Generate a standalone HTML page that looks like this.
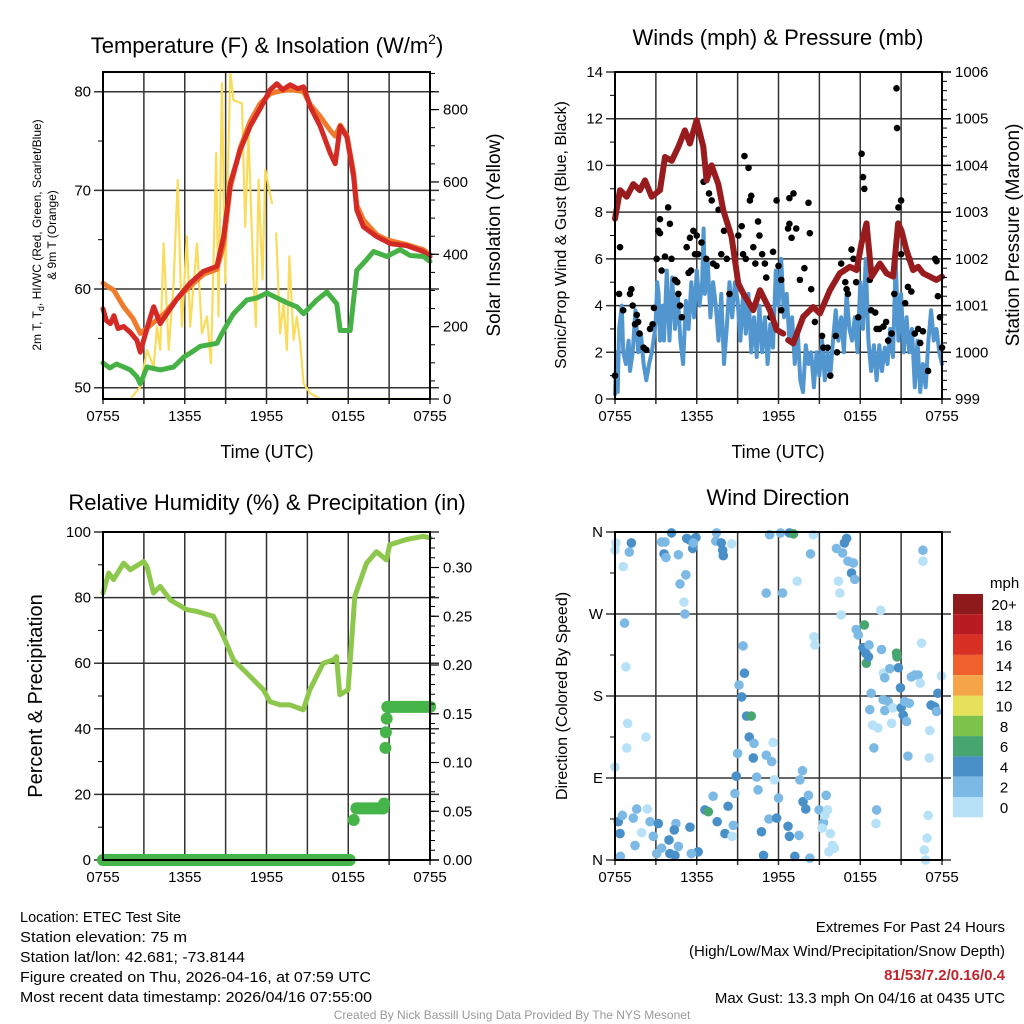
<!DOCTYPE html>
<html><head><meta charset="utf-8"><style>
html,body{margin:0;padding:0;background:#fff;}
svg{display:block;font-family:"Liberation Sans",Arial,sans-serif;}
</style></head><body>
<svg id="chart" width="1024" height="1024" viewBox="0 0 1024 1024" xmlns="http://www.w3.org/2000/svg">
<defs><clipPath id="clip1"><rect x="103" y="66" width="327" height="334"/></clipPath></defs>
<rect width="1024" height="1024" fill="#fff"/>
<text x="267" y="53" font-size="22" text-anchor="middle">Temperature (F) &amp; Insolation (W/m<tspan dy="-9" font-size="14">2</tspan><tspan dy="9">)</tspan></text>
<text x="778" y="45" font-size="22" text-anchor="middle">Winds (mph) &amp; Pressure (mb)</text>
<text x="267" y="510" font-size="22" text-anchor="middle">Relative Humidity (%) &amp; Precipitation (in)</text>
<text x="778" y="505" font-size="22" text-anchor="middle">Wind Direction</text>
<text x="267" y="458" font-size="18" text-anchor="middle">Time (UTC)</text>
<text x="778" y="458" font-size="18" text-anchor="middle">Time (UTC)</text>
<text transform="translate(41,235) rotate(-90)" font-size="12" text-anchor="middle">2m T, T<tspan font-size="9" dy="3">d</tspan><tspan dy="-3">, HI/WC (Red, Green, Scarlet/Blue)</tspan></text>
<text transform="translate(56,235) rotate(-90)" font-size="12" text-anchor="middle">&amp; 9m T (Orange)</text>
<text transform="translate(500,235) rotate(-90)" font-size="19" text-anchor="middle">Solar Insolation (Yellow)</text>
<text transform="translate(566,235) rotate(-90)" font-size="16" text-anchor="middle">Sonic/Prop Wind &amp; Gust (Blue, Black)</text>
<text transform="translate(1019,235) rotate(-90)" font-size="19" text-anchor="middle">Station Pressure (Maroon)</text>
<text transform="translate(42,696) rotate(-90)" font-size="20" text-anchor="middle">Percent &amp; Precipitation</text>
<text transform="translate(567,696) rotate(-90)" font-size="16" text-anchor="middle">Direction (Colored By Speed)</text>
<g font-size="15">
<text x="20" y="922" textLength="161" lengthAdjust="spacingAndGlyphs">Location: ETEC Test Site</text>
<text x="20" y="942" textLength="167" lengthAdjust="spacingAndGlyphs">Station elevation: 75 m</text>
<text x="20" y="962" textLength="225" lengthAdjust="spacingAndGlyphs">Station lat/lon: 42.681; -73.8144</text>
<text x="20" y="982" textLength="351" lengthAdjust="spacingAndGlyphs">Figure created on Thu, 2026-04-16, at 07:59 UTC</text>
<text x="20" y="1002" textLength="352" lengthAdjust="spacingAndGlyphs">Most recent data timestamp: 2026/04/16 07:55:00</text>
</g>
<g font-size="15" text-anchor="end">
<text x="1005" y="932">Extremes For Past 24 Hours</text>
<text x="1005" y="956">(High/Low/Max Wind/Precipitation/Snow Depth)</text>
<text x="1005" y="980" fill="#c0262d" font-weight="bold">81/53/7.2/0.16/0.4</text>
<text x="1005" y="1003">Max Gust: 13.3 mph On 04/16 at 0435 UTC</text>
</g>
<text x="512" y="1019" font-size="12" fill="#999" text-anchor="middle">Created By Nick Bassill Using Data Provided By The NYS Mesonet</text>
<g id="layer"></g>
</svg>
<script>
const xTickLabels = ["0755","1355","1955","0155","0755"];
const tempTicks = [50,60,70,80];
const insolTicks = [0,200,400,600,800];
const windTicks = [0,2,4,6,8,10,12,14];
const presTicks = [999,1000,1001,1002,1003,1004,1005,1006];
const rhTicks = [0,20,40,60,80,100];
const precipTicks = [0,0.05,0.10,0.15,0.20,0.25,0.30];
const dirTicks = ["N","E","S","W","N"];
const speedBins = ["0","2","4","6","8","10","12","14","16","18","20+"];
const speedColors = ["#b7e1f7","#7db9e5","#4a90c8","#47a56f","#7dc24a","#e7e05a","#f6a44a","#f0602c","#d93026","#b81c22","#8f1a1c"];

const temp2m = [[0,58],[0.25,56.8],[0.54,56.5],[0.8,57.3],[1.1,56],[1.52,56.2],[2.0,55.6],[2.49,54.8],[2.74,53.6],[2.98,54.8],[3.4,56.8],[3.72,58.2],[4.2,56.5],[4.69,57.5],[5.43,59],[6.4,60.6],[7.38,61.8],[8.36,62.3],[8.85,65.3],[9.34,70.7],[10.07,74.1],[10.8,76.5],[11.54,78.3],[12.27,80.2],[12.76,80.8],[13.2,80.2],[13.74,80.7],[14.3,80.3],[14.72,80.5],[15.21,78.5],[15.94,76.5],[16.67,73.8],[17.04,72.7],[17.41,76.5],[17.9,75.4],[18.39,71.4],[18.63,68],[19.12,66.3],[20.1,65.3],[20.83,64.8],[21.08,64.6],[22.3,64.4],[23.5,63.8],[24,63.3]];
const temp9m = [[0,60.6],[0.4,60.2],[0.78,59.9],[1.52,58.2],[2.2,57],[2.74,55.5],[3.2,56],[3.96,56.9],[4.5,57.5],[5.43,59],[6.4,60.3],[7.38,61.5],[8.36,62],[8.85,64.5],[9.34,70.3],[10.07,74.3],[10.8,77],[11.54,78.8],[12.27,79.8],[12.76,80],[13.74,80.2],[14.72,80],[15.21,78.7],[15.94,77.5],[16.67,76.1],[17.04,75.5],[17.41,76.6],[17.9,75.6],[18.39,71.8],[18.63,68.5],[19.12,67],[20.1,65.5],[20.83,65],[21.08,64.9],[22.3,64.5],[23.5,64],[24,63.5]];
const dewpoint = [[0,52.5],[0.5,52],[1.0,52.4],[1.52,52.1],[2.0,51.8],[2.49,51.1],[2.74,50.4],[3.23,52.1],[4.2,51.8],[5.18,52.1],[5.92,53.1],[6.5,53.6],[7.14,54.2],[8.36,54.5],[8.85,55.8],[9.58,57.5],[10.56,58.9],[11.3,59.1],[12.03,59.6],[12.76,59.1],[13.5,58.6],[14.23,58.2],[14.72,57.5],[15.7,58.9],[16.43,59.7],[17.16,58.5],[17.41,55.8],[18.14,55.8],[18.63,61.9],[19.36,63],[19.85,63.8],[20.83,63.3],[21.8,64],[22.54,63.4],[23.52,63.3],[24,62.8]];
const insolation = [[0,0],[2.0,0],[2.74,34],[3.23,135],[3.72,89],[3.96,200],[4.2,136],[4.45,430],[4.82,136],[5.18,320],[5.48,605],[5.79,200],[6.16,450],[6.4,200],[6.9,430],[7.26,182],[7.63,228],[7.92,98],[8.31,680],[8.48,228],[8.73,873],[8.97,320],[9.34,905],[9.58,826],[10.2,817],[10.44,476],[10.68,734],[11.05,320],[11.22,200],[11.42,606],[11.71,330],[11.91,633],[12.4,541],null,[12.71,458],[13.0,181],[13.25,264],[13.5,135],[13.67,394],[13.99,163],[14.23,228],[14.47,154],[14.72,43],[15.2,16],[15.94,0],[24,0]];
const pressure = [[0,1002.86],[0.37,1003.47],[0.86,1003.33],[1.34,1003.6],[1.83,1003.47],[2.2,1003.68],[2.69,1003.33],[3.3,1003.47],[3.67,1004.18],[4.16,1004.1],[4.65,1004.4],[5.13,1004.75],[5.5,1004.47],[5.99,1004.97],[6.48,1004.4],[6.72,1003.68],[7.09,1004.0],[7.58,1003.6],[7.95,1003.04],[8.56,1002.47],[9.05,1001.47],[9.41,1001.26],[10.15,1000.9],[10.64,1001.33],[11.37,1000.9],[11.86,1000.48],[12.35,1000.4],null,[12.71,1000.26],[13.08,1000.19],[13.81,1000.76],[14.55,1000.97],[15.04,1000.83],[15.77,1001.33],[16.5,1001.69],[17.24,1001.83],[17.73,1001.76],[18.09,1002.33],[18.46,1002.76],[18.83,1001.62],[19.44,1001.9],[19.93,1001.69],[20.42,1001.62],[20.78,1002.76],[21.03,1002.6],[21.39,1002.19],[21.88,1001.76],[22.25,1001.83],[22.62,1001.69],[23.1,1001.62],[23.59,1001.55],[24,1001.62]];
const windSpeed = [[0,0.2],[0.1,2],[0.2,0.3],[0.3,3],[0.5,4],[0.6,2],[0.8,1.5],[1.0,2.5],[1.1,1.2],[1.3,2],[1.5,3.8],[1.7,2],[1.9,2.8],[2.1,1.5],[2.3,0.8],[2.5,1.5],[2.7,2.0],[2.9,2.8],[3.0,3.5],[3.1,5],[3.2,4.5],[3.3,2.5],[3.5,4],[3.6,2.5],[3.8,5.5],[3.9,4],[4.0,2.5],[4.2,5.2],[4.4,3],[4.6,4.5],[4.8,2.5],[5.0,1.5],[5.2,4.2],[5.4,3],[5.6,5],[5.8,3.5],[6.0,5.5],[6.2,4],[6.4,5],[6.5,7.3],[6.6,4.5],[6.8,6],[7.0,3.5],[7.2,5],[7.4,4],[7.6,2.5],[7.8,4.5],[8.0,1.5],[8.2,3],[8.4,5],[8.6,3.5],[8.8,5],[9.0,4.2],[9.2,2.5],[9.4,4.5],[9.6,2.8],[9.8,4.5],[10.0,2.0],[10.2,3.5],[10.4,1.8],[10.6,4],[10.8,2],[11.0,3.5],[11.2,1.5],[11.4,3.2],[11.6,2.2],[11.8,5.5],[12.0,4],[12.2,6],[12.4,3.5],[12.6,4.5],[12.8,2.5],[13.0,3.5],[13.2,1.5],[13.4,3.0],[13.6,0.8],[13.8,0.3],[14.0,2.3],[14.2,1.5],[14.4,2],[14.6,0.5],[14.8,2],[15.0,1],[15.2,2.5],[15.4,0.8],[15.6,2],[15.8,1],[16.0,2.5],[16.2,3.8],[16.4,2.5],[16.6,3.5],[16.8,2.0],[17.0,4.5],[17.2,3],[17.4,2.5],[17.6,3.5],[17.8,2],[18.0,5],[18.2,3],[18.4,6],[18.6,2.5],[18.8,1.2],[19.0,2.3],[19.2,0.8],[19.4,2.3],[19.6,1.2],[19.8,2.2],[20.0,1.5],[20.2,3],[20.4,1.8],[20.6,6],[20.8,2.5],[21.0,4.5],[21.2,2],[21.4,3.5],[21.6,2],[21.8,3],[22.0,0.5],[22.2,2.5],[22.4,0.3],[22.6,1.5],[22.8,0.5],[23.0,2.5],[23.2,3.8],[23.4,2.5],[23.6,3],[23.8,2],[24,1.5]];
const windGust = [[0,1.0],[0.3,4.5],[0.37,6.5],[0.6,3.8],[1.1,4.5],[1.2,4.7],[1.3,4],[1.47,3.2],[1.6,3.6],[1.7,3.3],[1.8,2.8],[2.1,2.2],[2.3,2.1],[2.57,3.0],[2.76,3.2],[2.86,3.9],[3.06,6.0],[3.18,7.2],[3.3,7.1],[3.42,5.5],[3.3,7.7],[3.67,6.1],[3.9,8.2],[4.03,7.5],[4.15,6],[4.4,5.1],[4.57,5],[4.65,4.5],[4.77,4],[4.9,3.5],[5.26,6.5],[5.4,5.4],[5.5,6.9],[5.58,5.5],[5.75,7.2],[5.87,6.2],[6,7],[6.1,6.2],[6.35,6.7],[6.5,9.3],[6.7,6],[6.9,8.8],[7.1,8.5],[7.2,5.8],[7.45,5.7],[7.6,8.1],[7.8,6.2],[8,7.2],[8.2,6],[8.4,4.5],[8.8,6.2],[9.05,7],[9.3,7.4],[9.4,6.2],[9.5,10.4],[9.6,6],[9.8,9.9],[9.9,8.5],[10,8.7],[10.15,6.5],[10.3,5.8],[10.5,7.6],[10.6,7],[10.8,6.2],[11,5.8],[11.1,5.2],[11.4,3.5],[11.6,6.3],[11.86,8.5],[12,5.7],[12.2,3.8],[12.2,5.1],[12.7,7.3],[12.8,7.5],[12.96,6.9],[12.8,8.6],[13.1,8.8],[13.3,7.3],[13.57,5.1],[13.9,5.6],[14.2,8.4],[14.3,7.1],[14.4,4.7],[14.67,3.3],[15.2,2.7],[15.3,2.2],[15.6,2.2],[15.8,1],[16.2,2.7],[16.3,2],[16.6,5.8],[16.9,5],[17,4.7],[17.1,4.5],[17.36,6.4],[17.5,6],[17.7,5],[17.85,3.5],[18.1,10.5],[18.2,9.5],[18.3,9],[18.45,7.4],[18.7,5.1],[18.8,3.8],[19.1,3.7],[19.2,3],[19.4,3],[19.7,3.1],[19.9,3.3],[20.05,2.5],[20.3,2.8],[20.5,4.5],[20.66,13.3],[20.7,11.6],[20.8,8.2],[21,8.5],[21,6.2],[21.3,4.1],[21.5,4.8],[21.6,6],[21.75,4.6],[22,2.8],[22.25,3],[22.4,2.4],[22.6,2.9],[22.98,1.2],[23.5,6],[23.6,5.9],[23.7,4.4],[23.85,3.5],[24,2.2]];
const relHumidity = [[0,81.4],[0.42,87.5],[0.78,85.5],[1.51,90.5],[2.0,88.5],[2.98,91],[3.22,89.5],[3.71,81.4],[4.2,83.4],[4.93,79.3],[6.15,76.3],[6.88,75.8],[8.1,74.3],[8.84,68.2],[9.57,61],[10.55,57],[11.77,51.9],[12.26,48.3],[12.99,47.3],[13.72,47.3],[14.7,45.8],[15.18,51.9],[16.16,60],[16.89,61],[17.14,62],[17.38,50.4],[17.99,51.9],[18.48,80.4],[19.34,90.5],[20.07,94],[20.8,91.5],[21.04,96.1],[22.27,97.7],[23.51,98.7],[24,98.2]];
const precip = [[0,0],[18.1,0],[18.4,0.041],[18.6,0.053],[20.56,0.053],[20.63,0.058],[20.73,0.115],[20.76,0.131],[20.82,0.145],[20.87,0.157],[24,0.157]];
const windDir = [[0.07,348,1],[0,340,1],[0.6,322,1],[1.2,348,4],[1.05,338,2],[0.7,260,2],[0.8,212,1],[0.93,150,1],[0.86,123,1],[2.27,135,1],[0,102,1],[0.24,42,4],[0.37,29,4],[0.54,49,2],[0.4,4,2],[1.34,46,2],[1.59,56,2],[1.47,16,2],[1.96,30,1],[2.37,56,1],[2.57,42,2],[2.81,26,2],[3.18,40,4],[3.06,7,2],[3.42,13,2],[3.96,22,4],[4.03,7,4],[4.4,5,4],[4.47,40,2],[4.35,33,4],[4.65,15,2],[5.5,36,4],[6.1,9,4],[5.6,7,2],[6.6,55,4],[6.85,53,6],[7.2,70,2],[7.5,42,4],[8.07,29,4],[8.3,59,4],[8.68,38,2],[8.6,26,1],[8.8,73,2],[8.9,92,4],[9.0,117,2],[9.1,192,2],[9.3,179,4],[9.4,235,2],[9.5,205,4],[9.66,158,4],[10.0,158,6],[9.85,135,4],[10.2,128,2],[10.15,112,4],[10.4,91,2],[10.5,77,2],[10.75,31,4],[10.9,5,4],[11.1,115,2],[11.5,108,2],[11.3,45,2],[12.0,68,2],[11.86,46,4],[11.6,129,1],[11.7,88,1],[11.1,293,2],[11.35,357,2],[12.3,293,2],[12.15,359,2],[12.8,359,4],[13.1,358,6],[12.7,37,4],[12.8,26,4],[13.2,4,4],[13.37,306,1],[13.5,27,2],[13.57,88,2],[13.76,98,2],[13.8,64,4],[14.0,56,4],[14.2,71,2],[14.3,2,2],[14.35,336,2],[14.55,357,1],[14.6,245,1],[14.67,236,1],[14.98,55,2],[15.3,41,2],[15.2,35,1],[15.4,49,1],[15.5,71,2],[15.6,55,1],[15.8,29,1],[15.96,16,1],[16.1,13,1],[15.7,9,1],[16.25,342,2],[16.4,306,1],[16.5,293,1],[16.6,269,1],[16.7,337,2],[16.84,348,4],[17.0,353,4],[17.1,328,2],[17.36,315,4],[17.5,326,2],[17.6,308,2],[17.7,253,2],[17.85,247,2],[18.3,258,6],[18.2,233,4],[18.4,227,4],[18.45,216,6],[18.6,223,4],[18.65,236,2],[18.8,183,2],[18.7,165,2],[18.9,148,1],[19.0,123,2],[19.2,55,2],[19.15,40,1],[19.3,145,1],[19.5,274,1],[19.56,231,2],[19.7,205,1],[19.8,200,2],[19.68,176,2],[19.8,164,2],[20.05,174,2],[20.3,150,1],[20.17,210,2],[20.4,167,1],[20.66,227,6],[20.7,223,6],[20.8,211,4],[20.95,189,4],[21.0,167,4],[21.15,159,4],[21.25,174,2],[21.4,152,2],[21.5,114,2],[21.6,172,2],[21.75,201,2],[22.0,203,2],[22.25,203,2],[22.4,194,1],[22.5,238,1],[22.6,340,2],[22.6,328,1],[22.98,49,1],[22.9,24,1],[22.7,11,1],[22.8,0,1],[23.1,142,1],[23.06,112,1],[23.2,170,4],[23.47,168,4],[23.6,163,2],[23.7,183,4],[23.96,202,1],[3.42,349,2],[3.67,349,2],[4.15,359,4],[3.6,336,4],[3.74,332,2],[4.65,335,2],[5.26,353,4],[5.5,351,4],[5.7,342,4],[5.94,354,4],[5.75,348,2],[5.2,313,2],[4.77,303,2],[5.06,283,1],[5.13,270,2],[7.45,359,2],[7.4,350,2],[7.8,348,4],[7.9,340,4],[7.95,334,4],[8.56,347,1]];

const NS="http://www.w3.org/2000/svg";
const layer=document.getElementById('layer');
function mk(tag,attrs,parent){const e=document.createElementNS(NS,tag);for(const k in attrs)e.setAttribute(k,attrs[k]);(parent||layer).appendChild(e);return e;}
function linScale(d0,d1,r0,r1){return v=>r0+(v-d0)/(d1-d0)*(r1-r0);}

function panel(name,x0,x1,y0,y1){
  const g=mk('g',{});
  
  
  return {g,x0,x1,y0,y1,xs:linScale(0,24,x0,x1)};
}
function gridAndFrame(p,hLines){
  for(let h=0;h<=24;h+=3){
    const x=p.xs(h);
    const l=mk('line',{x1:x,x2:x,y1:p.y0,y2:p.y1+5,stroke:'#333','stroke-width':1.5},p.g);
    
    
  }
  hLines.forEach(y=>{
    const l=mk('line',{x1:p.x0-9,x2:p.x1+9,y1:y,y2:y,stroke:'#333','stroke-width':1.5},p.g);
    
    
  });
}
function frame(p){
  const r=mk('rect',{x:p.x0,y:p.y0,width:p.x1-p.x0,height:p.y1-p.y0,fill:'none',stroke:'#000','stroke-width':2},p.g);
  
  
}
function xLabels(p){
  xTickLabels.forEach((s,i)=>{
    const t=mk('text',{x:p.xs(i*6),y:p.y1+22,'font-size':15,'text-anchor':'middle'},p.g);
    t.textContent=s;
    
    
  });
}
function yLeftLabels(p,vals,ys,fmt){
  vals.forEach(v=>{
    const t=mk('text',{x:p.x0-12,y:ys(v)+5,'font-size':15,'text-anchor':'end'},p.g);
    t.textContent=fmt?fmt(v):v;
    
    
  });
}
function yRightTicks(p,vals,ys,fmt,minorStep,lo,hi){
  vals.forEach(v=>{
    const y=ys(v);
    const l=mk('line',{x1:p.x1,x2:p.x1+9,y1:y,y2:y,stroke:'#000','stroke-width':1.2},p.g);
    
    
    const t=mk('text',{x:p.x1+13,y:y+5,'font-size':15},p.g);
    t.textContent=fmt?fmt(v):v;
    
    
  });
  if(minorStep){
    for(let v=lo;v<=hi+1e-9;v+=minorStep){
      const y=ys(v);
      if(y<p.y0-0.5||y>p.y1+0.5)continue;
      const l=mk('line',{x1:p.x1,x2:p.x1+5,y1:y,y2:y,stroke:'#000','stroke-width':1},p.g);
      
      
    }
  }
}
function leftMinor(p,vals,ys){
  vals.forEach(v=>{const y=ys(v);
    const l=mk('line',{x1:p.x0-5,x2:p.x0,y1:y,y2:y,stroke:'#000','stroke-width':1},p.g);
    
    
  });
}
function pathFrom(arr,xs,ys){
  let d='',pen=false;
  arr.forEach(pt=>{ if(!pt){pen=false;return;} d+=(pen?'L':'M')+xs(pt[0]).toFixed(1)+','+ys(pt[1]).toFixed(1); pen=true;});
  return d;
}
function line(p,arr,ys,color,w,name,clip){
  const e=mk('path',{d:pathFrom(arr,p.xs,ys),fill:'none',stroke:color,'stroke-width':w,'stroke-linejoin':'round','stroke-linecap':'round'},p.g);
  if(clip)e.setAttribute('clip-path',clip);
  
  
}

// Panel 1: temperature
const p1=panel('temperature-panel',103,430,72,399);
const tY=linScale(50,80,387.7,91.7), iY=linScale(0,800,399,109.6);
gridAndFrame(p1,tempTicks.map(tY));
leftMinor(p1,[55,65,75],tY);
line(p1,insolation,iY,'#f9dc5c',2.2,'insolation-line','url(#clip1)');
line(p1,temp9m,tY,'#f07b2c',5,'temp-9m-line');
line(p1,temp2m,tY,'#d42a26',5,'temp-2m-line');
line(p1,dewpoint,tY,'#46b245',5,'dewpoint-line');
frame(p1);xLabels(p1);yLeftLabels(p1,tempTicks,tY);
yRightTicks(p1,insolTicks,iY,null,50,0,900);

// Panel 2: winds
const p2=panel('wind-panel',615,942,72,399);
const wY=linScale(0,14,399,72), pY=linScale(999,1006,399,72);
gridAndFrame(p2,windTicks.map(wY));
leftMinor(p2,[1,3,5,7,9,11,13],wY);
line(p2,windSpeed,wY,'#5296d0',4,'wind-speed-line');
windGust.forEach(pt=>{
  const c=mk('circle',{cx:p2.xs(pt[0]),cy:wY(pt[1]),r:3.3,fill:'#000'},p2.g);
  
  
});
line(p2,pressure,pY,'#981b1e',6,'pressure-line');
frame(p2);xLabels(p2);yLeftLabels(p2,windTicks,wY);
yRightTicks(p2,presTicks,pY,null,0.2,999,1006);

// Panel 3: RH & precipitation
const p3=panel('humidity-panel',103,430,532,860);
const rY=linScale(0,100,860,532), prY=linScale(0,0.30,860,567.5);
gridAndFrame(p3,rhTicks.map(rY));
leftMinor(p3,[10,30,50,70,90],rY);
line(p3,relHumidity,rY,'#8dc84c',5,'rh-line');
for(let i=1;i<precip.length;i++){
  if(precip[i][1]===precip[i-1][1]){
    const l=mk('line',{x1:p3.xs(precip[i-1][0]),x2:p3.xs(precip[i][0]),y1:prY(precip[i][1]),y2:prY(precip[i][1]),stroke:'#45b549','stroke-width':12,'stroke-linecap':'round'},p3.g);
    
    
  }
}
precip.forEach(pt=>{
  const c=mk('circle',{cx:p3.xs(pt[0]),cy:prY(pt[1]),r:6,fill:'#45b549'},p3.g);
  
  
});
frame(p3);xLabels(p3);yLeftLabels(p3,rhTicks,rY);
yRightTicks(p3,precipTicks,prY,v=>v.toFixed(2),0.01,0,0.33);

// Panel 4: wind direction
const p4=panel('direction-panel',615,942,532,860);
const dY=linScale(0,360,860,532);
gridAndFrame(p4,[0,90,180,270,360].map(dY));
leftMinor(p4,[45,135,225,315],dY);
windDir.forEach(pt=>{
  const bin=Math.min(10,Math.floor(pt[2]/2));
  const c=mk('circle',{cx:p4.xs(pt[0]),cy:dY(pt[1]),r:4.8,fill:speedColors[bin]},p4.g);
  
  
});
frame(p4);xLabels(p4);
dirTicks.forEach((s,i)=>{
  const t=mk('text',{x:p4.x0-12,y:dY(i*90)+5,'font-size':15,'text-anchor':'end'},p4.g);
  t.textContent=s;
  
  
});

// Colorbar legend
const lg=mk('g',{});


const lt=mk('text',{x:990,y:588,'font-size':15},lg);
lt.textContent='mph';


speedBins.forEach((s,i)=>{
  const idx=10-i, y=594+i*20.3;
  const r=mk('rect',{x:953,y:y,width:30,height:20.3,fill:speedColors[idx]},lg);
  
  
  const t=mk('text',{x:1004,y:y+16,'font-size':15,'text-anchor':'middle'},lg);
  t.textContent=speedBins[idx];
  
  
});
</script>
</body></html>
